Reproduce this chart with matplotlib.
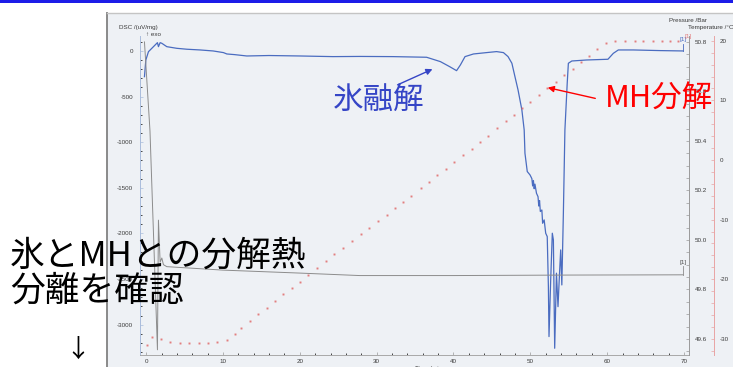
import numpy as np
import matplotlib.pyplot as plt
from matplotlib.patches import Rectangle
from matplotlib.ticker import MultipleLocator, FormatStrFormatter

plt.rcParams['font.family'] = ['Liberation Sans', 'DejaVu Sans']
plt.rcParams['axes.unicode_minus'] = False

W, H = 733, 367

# DSC signal /(uV/mg) against time /min
dsc_time = [-0.22, -0.04, 0.30, 0.95, 1.47, 1.60, 1.82, 2.04, 2.69, 3.99, 5.29, 7.03,
            8.72, 10.06, 10.5, 11.5, 13.1, 16.0, 20.0, 24.3, 27.8, 32.1, 36.5, 38.3,
            39.5, 40.4, 40.9, 41.5, 42.6, 44.3, 45.6, 46.5, 47.1, 47.6, 48.0, 48.4,
            48.9, 49.2, 49.3, 49.6, 49.96, 50.2, 50.3, 50.4, 50.5, 50.6, 50.8, 51.0,
            51.1, 51.2, 51.3, 51.5, 51.6, 51.8, 52.0, 52.2, 52.35, 52.43, 52.65, 52.86,
            53.0, 53.17, 53.4, 53.6, 53.8, 53.95, 54.1, 54.3, 54.5, 54.8, 54.95, 55.4,
            57.3, 60.1, 60.8, 61.45, 63.4, 66.9, 69.9]
dsc_val = [-282, -99, -8, 47, 91, 47, 91, 84, 47, 29, 19, 11,
           0, -18, -33, -40, -55, -50, -55, -62, -60, -62, -69, -117,
           -172, -216, -153, -62, -33, -18, -7, -18, -62, -135, -282, -427,
           -647, -866, -1121, -1322, -1359, -1400, -1480, -1420, -1510, -1460, -1560, -1597,
           -1700, -1640, -1760, -1743, -1889, -1852, -1998, -2035, -2583, -3131, -2510, -1998,
           -2071, -3259, -2436, -2803, -2436, -2181, -2565, -1779, -866, -354, -135, -110,
           -99, -91, -26, 11, 11, 4, 0]

# pressure /bar
p_time = [-0.22, 0.5, 1.47, 1.6, 1.82, 2.04, 2.25, 2.69, 10.0, 20.0, 27.8, 40.0, 55.0, 69.9]
p_val = [50.80, 50.44, 49.556, 50.08, 49.91, 49.927, 49.90, 49.892, 49.878, 49.866,
         49.856, 49.856, 49.858, 49.859]

# temperature /degC (sampled points)
temp_time = [0.1, 0.8, 1.9, 3.1, 4.4, 5.6, 6.9, 8.0, 9.2, 10.5,
             11.5, 12.4, 13.5, 14.6, 15.7, 16.8, 17.8, 19.0, 20.0, 21.0,
             22.3, 23.4, 24.5, 25.6, 26.8, 28.0, 29.0, 30.2, 31.4, 32.4,
             33.4, 34.5, 35.8, 36.8, 37.9, 39.0, 40.1, 41.2, 42.4, 43.5,
             44.5, 45.7, 46.8, 47.9, 48.9, 50.0, 51.1, 52.2, 53.3, 54.4,
             55.5, 56.6, 57.6, 58.7, 59.8, 61.0, 62.3, 63.6, 64.7, 66.0,
             67.1, 68.2, 69.2]
temp_val = [-31.0, -29.7, -30.0, -30.5, -30.7, -30.7, -30.7, -30.7, -30.5, -30.2,
            -29.2, -28.2, -27.0, -25.8, -24.8, -23.6, -22.5, -21.5, -20.4, -19.3,
            -18.1, -16.9, -15.8, -14.7, -13.6, -12.4, -11.4, -10.2, -9.2, -8.0,
            -7.0, -6.0, -4.7, -3.7, -2.5, -1.5, -0.3, 0.8, 1.8, 3.0,
            4.0, 5.4, 6.5, 7.6, 8.7, 9.8, 10.9, 12.0, 13.1, 14.2,
            15.3, 16.4, 17.5, 18.6, 19.6, 19.9, 19.9, 19.9, 19.9, 19.9,
            19.9, 19.9, 19.9]


def fx(x):
    return x / W


def fy(y):
    return 1 - y / H


fig = plt.figure(figsize=(W / 100, H / 100), dpi=100, facecolor='white')

# slide header rule and the scanned chart area
fig.add_artist(Rectangle((0, fy(3)), 1, 3 / H, transform=fig.transFigure,
                         facecolor='#1c1ce8', edgecolor='none', zorder=-10))
fig.add_artist(Rectangle((fx(107), 0), fx(W - 107), fy(13), transform=fig.transFigure,
                         facecolor='#eef1f5', edgecolor='none', zorder=-10))
fig.add_artist(plt.Line2D([fx(107), fx(107)], [0, fy(13)], transform=fig.transFigure,
                          color='#8a8a8a', lw=1.4, zorder=-9))
fig.add_artist(plt.Line2D([fx(107), 1], [fy(13), fy(13)], transform=fig.transFigure,
                          color='#c4c4c4', lw=1.0, zorder=-9))

ax = fig.add_axes([fx(140), fy(355), fx(689 - 140), (355 - 36) / H])
ax.set_facecolor('none')
ax2 = ax.twinx()
ax3 = ax.twinx()
# 25 px to the right of the pressure spine
ax3.spines['right'].set_position(('outward', 18))

ax.set_xlim(-0.8, 70.65)
ax.set_ylim(-3333, 164)
ax2.set_ylim(49.535, 50.824)
ax3.set_ylim(-32.7, 20.8)

tick_kw = dict(labelsize=4.5, labelcolor='#3a3a3a', direction='in', length=2.5, width=0.5)
ax.tick_params(axis='both', which='both', **tick_kw)
ax.tick_params(axis='both', which='minor', length=1.5)
ax.tick_params(axis='y', colors='#a9bcdc', labelcolor='#3a3a3a', pad=5)
ax.tick_params(axis='x', colors='#999999', labelcolor='#3a3a3a', pad=3)
ax2.tick_params(axis='y', which='both', colors='#999999', **tick_kw)
ax2.tick_params(axis='y', labelcolor='#3a3a3a', pad=4)
ax3.tick_params(axis='y', which='both', colors='#e8a4a4', **tick_kw)
ax3.tick_params(axis='y', labelcolor='#3a3a3a', pad=4)

ax.xaxis.set_major_locator(MultipleLocator(10))
ax.xaxis.set_minor_locator(MultipleLocator(2))
ax.yaxis.set_major_locator(MultipleLocator(500))
ax.yaxis.set_minor_locator(MultipleLocator(100))
ax2.yaxis.set_major_locator(MultipleLocator(0.2))
ax2.yaxis.set_minor_locator(MultipleLocator(0.05))
ax2.yaxis.set_major_formatter(FormatStrFormatter('%.1f'))
ax3.yaxis.set_major_locator(MultipleLocator(10))
ax3.yaxis.set_minor_locator(MultipleLocator(2))

for a in (ax, ax2, ax3):
    a.spines['top'].set_visible(False)
ax.spines['right'].set_visible(False)
ax2.spines['left'].set_visible(False)
ax3.spines['left'].set_visible(False)
ax2.spines['bottom'].set_visible(False)
ax3.spines['bottom'].set_visible(False)
ax.spines['left'].set_color('#a9bcdc')
ax.spines['bottom'].set_color('#a8a8a8')
ax2.spines['right'].set_color('#9a9a9a')
ax3.spines['right'].set_color('#e8a4a4')
for a in (ax, ax2, ax3):
    for s in a.spines.values():
        s.set_linewidth(0.7)

# curves
ax3.plot(temp_time, temp_val, ls='none', marker='s', ms=1.4, mew=0,
         color='#e06a6a', alpha=0.85)
ax2.plot(p_time, p_val, color='#8c8c8c', lw=0.7)
ax.plot(dsc_time, dsc_val, color='#4a6cc0', lw=0.9)

# curve end markers
ax2.plot([p_time[-1], p_time[-1]], [p_val[-1], p_val[-1] + 0.035], color='#8c8c8c', lw=0.6)
ax2.annotate('[1]', (p_time[-1], p_val[-1] + 0.035), xytext=(0, 1),
             textcoords='offset points', ha='center', va='bottom', fontsize=4.5,
             color='#505050')
ax.plot([dsc_time[-1], dsc_time[-1]], [dsc_val[-1], dsc_val[-1] + 80], color='#4a6cc0', lw=0.6)
ax.annotate('[1]', (dsc_time[-1], dsc_val[-1] + 80), xytext=(0, 1),
            textcoords='offset points', ha='center', va='bottom', fontsize=4.5,
            color='#4a6cc0')
ax3.annotate('[1]', (temp_time[-1], temp_val[-1]), xytext=(7, 2),
             textcoords='offset points', ha='center', va='bottom', fontsize=4.5,
             color='#e06060', alpha=0.8)

# axis captions
fig.text(fx(119), fy(28), 'DSC /(uV/mg)', fontsize=4.5, color='#3a3a3a', va='center')
fig.text(fx(146), fy(35), '↑ exo', fontsize=4.5, color='#3a3a3a', va='center')
fig.text(fx(669), fy(20.5), 'Pressure /Bar', fontsize=4.5, color='#3a3a3a', va='center')
fig.text(fx(688), fy(27), 'Temperature /°C', fontsize=4.5, color='#3a3a3a', va='center')
fig.text(fx(415), fy(366), 'Time /min', fontsize=4.5, color='#3a3a3a', va='top')

# slide annotations
cjk = ['Noto Sans CJK JP', 'DejaVu Sans']
fig.text(fx(333), fy(100), '氷融解', fontsize=22, color='#3545c6', family=cjk, va='center')
fig.text(fx(605), fy(99), 'MH分解', fontsize=22, color='#ff0000', family=cjk, va='center')
fig.text(fx(10), fy(256), '氷とMHとの分解熱', fontsize=25, color='black', family=cjk, va='center')
fig.text(fx(10), fy(291), '分離を確認', fontsize=25, color='black', family=cjk, va='center')
fig.text(fx(78), fy(350), '↓', fontsize=18, color='black', family=cjk, ha='center', va='center')

ax.annotate('', xy=(435, H - 68), xytext=(395, H - 86), xycoords='figure pixels',
            textcoords='figure pixels', annotation_clip=False,
            arrowprops=dict(arrowstyle='-|>', color='#3545c6', lw=1.0, mutation_scale=9))
ax.annotate('', xy=(545, H - 87), xytext=(598, H - 99), xycoords='figure pixels',
            textcoords='figure pixels', annotation_clip=False,
            arrowprops=dict(arrowstyle='-|>', color='#ff0000', lw=1.0, mutation_scale=9))

fig.savefig('out.png', dpi=100)
